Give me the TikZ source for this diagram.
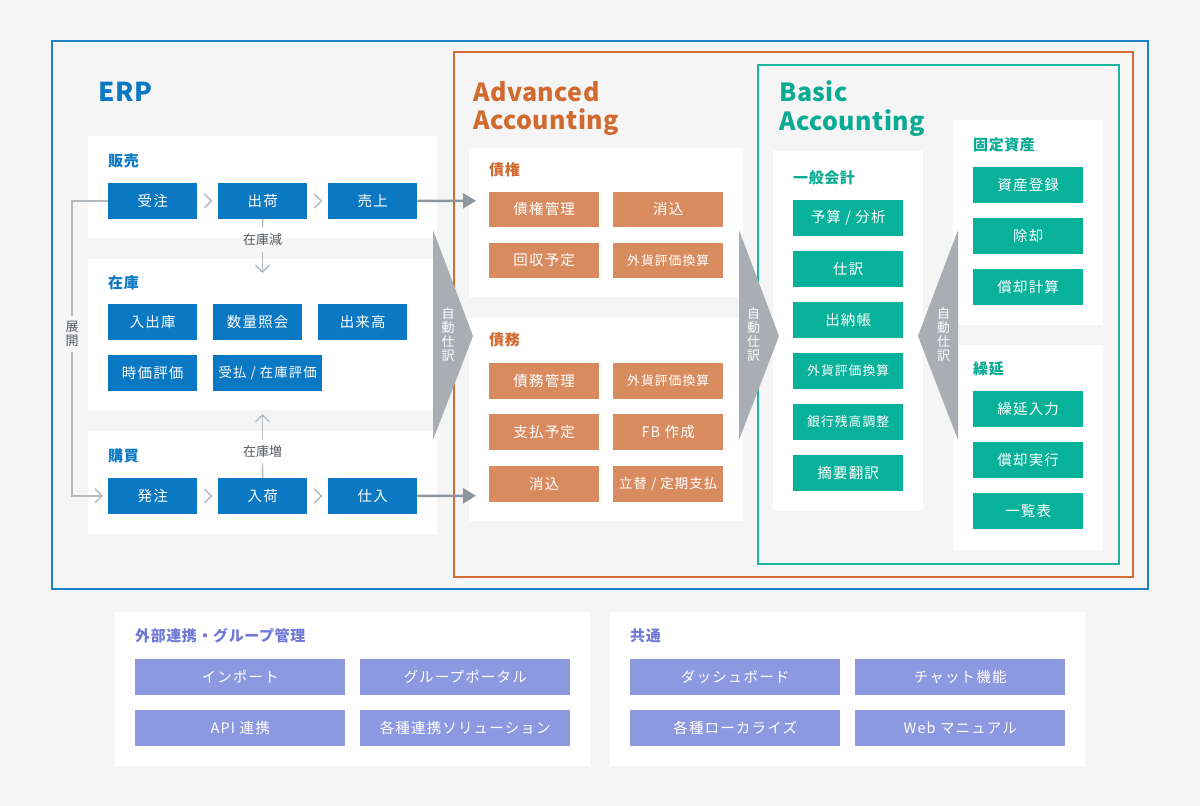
\documentclass[tikz,border=0pt]{standalone}
\usepackage{fontspec}
\setmainfont{Noto Sans CJK JP}
\newfontfamily\boxfont{Noto Sans CJK JP}[LetterSpace=8]
\newfontfamily\headfont{Noto Sans CJK JP}[LetterSpace=4]
\newfontfamily\titlefont{Noto Sans CJK JP}[LetterSpace=2]
\usetikzlibrary{calc, positioning}
\usetikzlibrary{arrows.meta}

\definecolor{pagebg}{HTML}{F5F5F6}
\definecolor{erpblue}{HTML}{0A78C2}
\definecolor{erpline}{HTML}{1F80C6}
\definecolor{advline}{HTML}{D26B36}
\definecolor{advtext}{HTML}{D06A2E}
\definecolor{advfill}{HTML}{D98B60}
\definecolor{basline}{HTML}{1CB5A0}
\definecolor{bastext}{HTML}{0BAA94}
\definecolor{basfill}{HTML}{08B29A}
\definecolor{cmnfill}{HTML}{8C98E0}
\definecolor{cmntext}{HTML}{6E7AD6}
\definecolor{autogray}{HTML}{A8AEB3}
\definecolor{feedgray}{HTML}{8E969D}
\definecolor{linegray}{HTML}{B4B9BE}
\definecolor{labelgray}{HTML}{555A5F}

\begin{document}
\begin{tikzpicture}[x=1pt, y=-1pt,
  tile/.style={anchor=north west, inner sep=0pt, minimum width=89pt, minimum height=35.5pt, text=white, font=\boxfont\fontsize{14.5}{17}\selectfont},
  erptile/.style={tile, fill=erpblue},
  advtile/.style={tile, fill=advfill, minimum width=110pt},
  bastile/.style={tile, fill=basfill, minimum width=110pt},
  cmntile/.style={tile, fill=cmnfill, minimum width=210pt},
  longtext/.style={font=\boxfont\fontsize{12.8}{15}\selectfont},
  slashtext/.style={font=\boxfont\fontsize{13.4}{15}\selectfont},
  sechead/.style={anchor=west, inner sep=0pt, font=\headfont\bfseries\fontsize{15}{18}\selectfont},
  bigtitle/.style={anchor=north west, inner sep=0pt, align=left, font=\titlefont\bfseries\fontsize{25}{28.5}\selectfont},
  boxline/.style={line width=2pt},
  chev/.style={draw=linegray, line width=1.4pt},
  flow/.style={draw=linegray, line width=1.4pt},
  flowlabel/.style={inner sep=6pt, text=labelgray, font=\fontsize{13}{15}\selectfont},
  feed/.style={draw=feedgray, line width=2.5pt, -{Triangle[length=13pt, width=15pt]}},
  autotext/.style={inner sep=0pt, align=center, text=white, font=\fontsize{13}{14}\selectfont}
]
\fill[pagebg] (0,0) rectangle (1200,806);
\useasboundingbox (0,0) rectangle (1200,806);

% frames
\draw[boxline, erpline] (52,41) rectangle (1148,589);
\draw[boxline, advline] (454,52) rectangle (1133,577);
\draw[boxline, basline] (758,65) rectangle (1119,564);

\node[anchor=base west, inner sep=0pt, text=erpblue, font=\titlefont\bfseries\fontsize{26}{30}\selectfont] (erptitle) at (98,101.5) {ERP};
\node[bigtitle, text=advtext] (advtitle) at (473,81) {Advanced\\Accounting};
\node[bigtitle, text=bastext] (bastitle) at (779,81) {Basic\\Accounting};

% panels
\fill[white] (88,136) rectangle (437,238);
\fill[white] (88,259) rectangle (437,410);
\fill[white] (88,431) rectangle (437,534);
\fill[white] (469,148) rectangle (743,297);
\fill[white] (469,318) rectangle (743,521);
\fill[white] (773,151) rectangle (923,511);
\fill[white] (953,120) rectangle (1103,325);
\fill[white] (953,345) rectangle (1103,550);
\fill[white] (115,612) rectangle (590,766);
\fill[white] (610,612) rectangle (1085,766);

% ERP
\node[sechead, text=erpblue] (hanbai) at (108,160.5) {販売};
\node[erptile] (jucyu) at (108,183) {受注};
\node[erptile] (syukka) at (218,183) {出荷};
\node[erptile] (uriage) at (328,183) {売上};

\node[sechead, text=erpblue] (zaiko) at (108,282.5) {在庫};
\node[erptile] (nyusyukko) at (108,304) {入出庫};
\node[erptile] (suryo) at (213,304) {数量照会};
\node[erptile] (dekidaka) at (318,304) {出来高};
\node[erptile] (jika) at (108,355) {時価評価};
\node[erptile, slashtext, minimum width=109pt] (ukeharai) at (213,355) {受払 / 在庫評価};

\node[sechead, text=erpblue] (kobai) at (108,455.5) {購買};
\node[erptile] (hattyu) at (108,478) {発注};
\node[erptile] (nyuka) at (218,478) {入荷};
\node[erptile] (shiire) at (328,478) {仕入};

\draw[chev] ($(jucyu.east)+(7,-7)$) -- ++(7,7) -- ++(-7,7);
\draw[chev] ($(syukka.east)+(7,-7)$) -- ++(7,7) -- ++(-7,7);
\draw[chev] ($(hattyu.east)+(7,-7)$) -- ++(7,7) -- ++(-7,7);
\draw[chev] ($(nyuka.east)+(7,-7)$) -- ++(7,7) -- ++(-7,7);

\node[flowlabel] (zaikogen) at (262.5,239.5) {在庫減};
\coordinate (zaikogenEnd) at (262.5,273);
\draw[flow] (syukka.south) -- (zaikogen.north);
\draw[flow, -{Straight Barb[length=7pt, width=14pt]}] (zaikogen.south) -- (zaikogenEnd);

\node[flowlabel] (zaikozo) at (262.5,451.5) {在庫増};
\coordinate (zaikozoEnd) at (262.5,414);
\draw[flow] (nyuka.north) -- (zaikozo.south);
\draw[flow, -{Straight Barb[length=7pt, width=14pt]}] (zaikozo.north) -- (zaikozoEnd);

\node[flowlabel, align=center, inner sep=5pt, font=\fontsize{13}{14.5}\selectfont] (tenkai) at (72,334) {展\\開};
\draw[flow] (jucyu.west) -| (tenkai.north);
\draw[flow, -{Straight Barb[length=7pt, width=14pt]}, shorten >=5pt] (tenkai.south) |- (hattyu.west);

% Advanced Accounting
\node[sechead, text=advtext] (saiken) at (489,170) {債権};
\node[advtile] (saikenkanri) at (489,191.5) {債権管理};
\node[advtile] (keshikomiA) at (613,191.5) {消込};
\node[advtile] (kaisyu) at (489,242.5) {回収予定};
\node[advtile, longtext] (gaikaA) at (613,242.5) {外貨評価換算};

\node[sechead, text=advtext] (saimu) at (489,340) {債務};
\node[advtile] (saimukanri) at (489,363) {債務管理};
\node[advtile, longtext] (gaikaB) at (613,363) {外貨評価換算};
\node[advtile] (shiharai) at (489,414) {支払予定};
\node[advtile] (fb) at (613,414) {FB 作成};
\node[advtile] (keshikomiB) at (489,466) {消込};
\node[advtile, slashtext] (tatekae) at (613,466) {立替 / 定期支払};

\coordinate (arIn) at (476,200.75);
\coordinate (apIn) at (476,495.75);
\draw[feed] (uriage.east) -- (arIn);
\draw[feed] (shiire.east) -- (apIn);

% Basic Accounting
\node[sechead, text=bastext] (ippan) at (793,178) {一般会計};
\node[bastile] (yosan) at (793,200) {予算 / 分析};
\node[bastile] (shiwake) at (793,251) {仕訳};
\node[bastile] (suitou) at (793,302) {出納帳};
\node[bastile, longtext] (gaikaC) at (793,353) {外貨評価換算};
\node[bastile, longtext] (ginko) at (793,404) {銀行残高調整};
\node[bastile] (tekiyo) at (793,455) {摘要翻訳};

\node[sechead, text=bastext] (kotei) at (973,145) {固定資産};
\node[bastile] (shisan) at (973,167) {資産登録};
\node[bastile] (jokyaku) at (973,218) {除却};
\node[bastile] (syokyakukeisan) at (973,269) {償却計算};

\node[sechead, text=bastext] (kurinobe) at (973,369) {繰延};
\node[bastile] (kurinobenyu) at (973,391) {繰延入力};
\node[bastile] (syokyakujikko) at (973,442) {償却実行};
\node[bastile] (ichiran) at (973,493) {一覧表};

% auto journal
\fill[autogray] (433,230) -- (473,336) -- (433,440) -- cycle;
\fill[autogray] (739,230) -- (779,336) -- (739,440) -- cycle;
\fill[autogray] (958,230) -- (918,336) -- (958,440) -- cycle;
\node[autotext] (autoA) at (448,335) {自\\動\\仕\\訳};
\node[autotext] (autoB) at (753.5,335) {自\\動\\仕\\訳};
\node[autotext] (autoC) at (943.5,335) {自\\動\\仕\\訳};

% common
\node[sechead, text=cmntext] (gaibu) at (135,636) {外部連携・グループ管理};
\node[cmntile] (import) at (135,659) {インポート};
\node[cmntile] (portal) at (360,659) {グループポータル};
\node[cmntile] (api) at (135,710) {API 連携};
\node[cmntile] (solution) at (360,710) {各種連携ソリューション};

\node[sechead, text=cmntext] (kyotsu) at (630,636) {共通};
\node[cmntile] (dash) at (630,659) {ダッシュボード};
\node[cmntile] (chat) at (855,659) {チャット機能};
\node[cmntile] (local) at (630,710) {各種ローカライズ};
\node[cmntile] (manual) at (855,710) {Web マニュアル};
\end{tikzpicture}
\end{document}
